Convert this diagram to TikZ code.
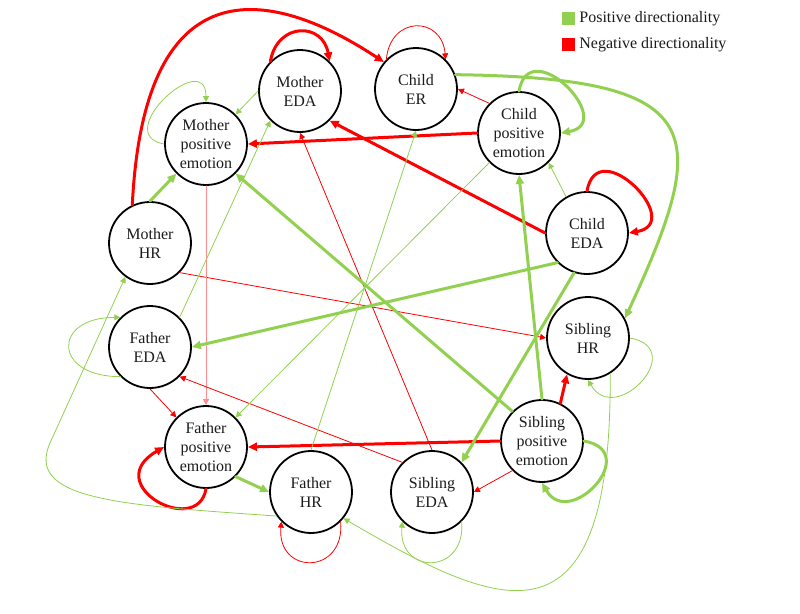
\documentclass[tikz,border=0pt]{standalone}
\usepackage{fontspec}
\setmainfont{Liberation Serif}
\usepackage{xcolor}
\usetikzlibrary{arrows.meta,positioning}
\definecolor{posgreen}{HTML}{92D050}
\definecolor{negred}{HTML}{FF0000}
\definecolor{ink}{HTML}{1A1A1A}
\tikzset{
  state diagram/.style={
    x=1pt,
    y=-1pt,
    line cap=round,
    line join=round
  },
  varnode/.style={
    circle,
    draw=black,
    line width=1.8pt,
    minimum size=82pt,
    inner sep=0pt,
    align=center,
    text=ink,
    font=\fontsize{16}{19}\selectfont
  },
  legendbox/.style={
    minimum size=13pt,
    inner sep=0pt
  },
  legendtext/.style={
    inner sep=0pt,
    text=ink,
    font=\fontsize{16}{19}\selectfont
  },
  posthick/.style={
    -{Triangle[length=9pt,width=8pt]},
    draw=posgreen,
    line width=3pt
  },
  posthin/.style={
    -{Triangle[length=6pt,width=6pt]},
    draw=posgreen,
    line width=0.8pt
  },
  negthick/.style={
    -{Triangle[length=9pt,width=8pt]},
    draw=negred,
    line width=3pt
  },
  negthin/.style={
    -{Triangle[length=6pt,width=6pt]},
    draw=negred,
    line width=0.8pt
  }
}
\begin{document}
\begin{tikzpicture}[state diagram]
\useasboundingbox (0,0) rectangle (800,613);
\node[varnode] (meda) at (300,91) {Mother\\EDA};
\node[varnode] (cer) at (416,89) {Child\\ER};
\node[varnode] (mpe) at (206,144) {Mother\\positive\\emotion};
\node[varnode] (cpe) at (519,133) {Child\\positive\\emotion};
\node[varnode] (mhr) at (150,243) {Mother\\HR};
\node[varnode] (ceda) at (587,233) {Child\\EDA};
\node[varnode] (feda) at (150,347) {Father\\EDA};
\node[varnode] (shr) at (588,338) {Sibling\\HR};
\node[varnode] (fpe) at (206,447) {Father\\positive\\emotion};
\node[varnode] (spe) at (542,441) {Sibling\\positive\\emotion};
\node[varnode] (fhr) at (311,492) {Father\\HR};
\node[varnode] (seda) at (432,492) {Sibling\\EDA};

\node[legendbox, fill=posgreen] (poskey) at (568.5,18.5) {};
\node[legendtext, right=4pt of poskey] (poslabel) {Positive directionality};
\node[legendbox, fill=negred, below=13pt of poskey] (negkey) {};
\node[legendtext, right=4pt of negkey] (neglabel) {Negative directionality};

\draw[negthick] (mhr.115) .. controls (145,-55) and (290,0) .. (cer.140);
\draw[negthick] (meda.135) .. controls +(80:40pt) and +(100:40pt) .. (meda.45);
\draw[negthin] (cer.135) .. controls +(85:44pt) and +(95:44pt) .. (cer.45);
\draw[negthick] (cpe.west) -- (mpe.east);
\draw[negthick] (ceda.west) -- (meda.south east);
\draw[negthin] (cpe.north west) -- (cer.east);
\draw[negthick] (ceda.90) .. controls +(80:60pt) and +(10:58pt) .. (ceda.0);
\draw[negthin] (mhr.south east) -- (shr.west);
\draw[negthin] (seda.north) -- (meda.south);
\draw[negthin, draw=negred!45] (mpe.south) -- (fpe.north);
\draw[negthin] (feda.south) -- (fpe.north west);
\draw[negthin] (seda.north west) -- (feda.south east);
\draw[negthick] (spe.west) -- (fpe.east);
\draw[negthick] (spe.64) -- (shr.240);
\draw[negthin] (spe.south west) -- (seda.east);
\draw[negthick] (fpe.270) .. controls +(260:50pt) and +(210:75pt) .. (fpe.180);
\draw[negthin] (fhr.-45) .. controls +(275:54pt) and +(265:54pt) .. (fhr.225);

\draw[posthick] (mhr.north) -- (mpe.south west);
\draw[posthin] (mpe.180) .. controls +(170:55pt) and +(90:55pt) .. (mpe.90);
\draw[posthin] (meda.west) -- (mpe.north east);
\draw[posthin] (feda.north east) -- (meda.south west);
\draw[posthin] (cpe.south west) -- (fpe.north east);
\draw[posthin] (fhr.north) -- (cer.south);
\draw[posthin] (ceda.120) -- (cpe.south east);
\draw[posthick] (cpe.90) .. controls +(80:60pt) and +(10:58pt) .. (cpe.0);
\draw[posthick] (cer.20) .. controls (710,78) and (712,130) .. (shr.28);
\draw[posthick] (ceda.south west) -- (feda.east);
\draw[posthick] (ceda.252) -- (seda.north east);
\draw[posthick] (spe.north) -- (cpe.south);
\draw[posthick] (spe.north west) -- (mpe.south east);
\draw[posthick] (spe.0) .. controls +(-10:60pt) and +(300:55pt) .. (spe.270);
\draw[posthin] (shr.0) .. controls +(-10:60pt) and +(300:55pt) .. (shr.270);
\draw[posthin] (seda.-45) .. controls +(275:54pt) and +(265:54pt) .. (seda.225);
\draw[posthick] (fpe.south east) -- (fhr.west);
\draw[posthin] (feda.225) .. controls +(180:68pt) and +(180:68pt) .. (feda.135);
\draw[posthin] (fhr.215) .. controls (120,505) and (25,500) .. (50,443) -- (mhr.234);
\draw[posthin] (shr.302) .. controls (612,660) and (500,610) .. (fhr.321);
\end{tikzpicture}
\end{document}
